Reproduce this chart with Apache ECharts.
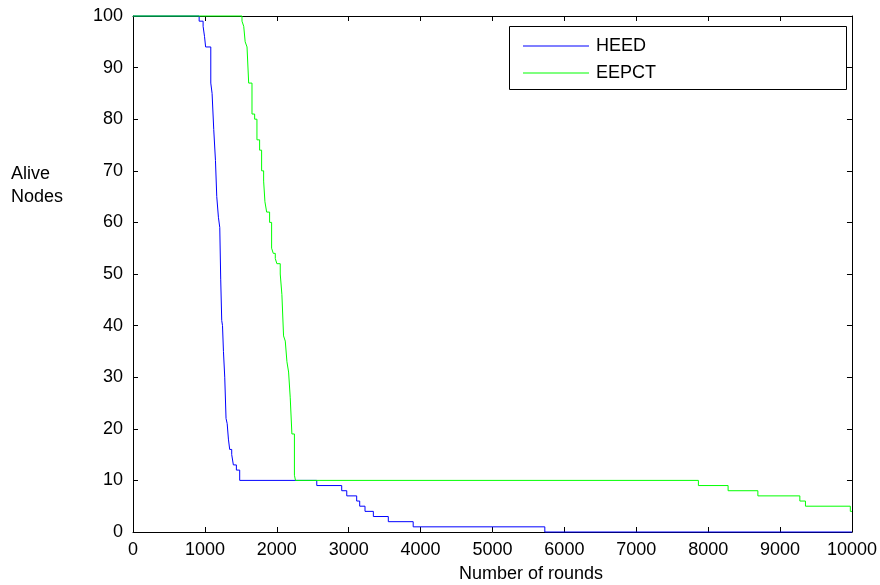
<!DOCTYPE html>
<html>
<head>
<meta charset="utf-8">
<script src="https://cdn.jsdelivr.net/npm/echarts@6/dist/echarts.min.js"></script>
<style>html,body{margin:0;padding:0;background:#fff;}#c{width:880px;height:585px;}</style>
</head>
<body>
<div id="c"></div>
<script>
// step data: [round where value starts, alive nodes]
var heedRounds = [0, 920, 975, 995, 1010, 1082, 1100, 1123, 1147, 1165, 1188, 1207, 1220, 1234, 1245, 1258, 1276, 1294, 1310, 1327, 1345, 1373, 1396, 1438, 1484, 2556, 2903, 2973, 3111, 3153, 3227, 3343, 3551, 3897, 5728, 10000];
var heedAlive  = [100, 99, 98, 96, 94, 87, 85, 78, 72, 65, 61, 59, 49, 41, 40, 35, 30, 22, 21, 18, 16, 15, 13, 12, 10, 9, 8, 7, 6, 5, 4, 3, 2, 1, 0, 0];
var eepctRounds = [0, 1516, 1540, 1560, 1586, 1609, 1655, 1692, 1724, 1761, 1789, 1817, 1835, 1859, 1900, 1928, 1951, 1979, 2001, 2048, 2071, 2094, 2118, 2141, 2164, 2187, 2210, 2245, 2260, 7864, 8277, 8691, 9275, 9353, 9977, 10000];
var eepctAlive  = [100, 99, 98, 95, 94, 87, 81, 80, 76, 74, 70, 68, 64, 62, 60, 55, 54, 53, 52, 50, 46, 38, 37, 33, 31, 26, 19, 11, 10, 9, 8, 7, 6, 5, 4, 4];
var xTicks = [0, 1000, 2000, 3000, 4000, 5000, 6000, 7000, 8000, 9000, 10000];
var yTicks = [0, 10, 20, 30, 40, 50, 60, 70, 80, 90, 100];
var xTitle = 'Number of rounds';
var yTitle = 'Alive\nNodes';

function zip(a, b) { return a.map(function (v, i) { return [v, b[i]]; }); }

var FONT = 'Liberation Sans';
var FS = 18;
var chart = echarts.init(document.getElementById('c'));
var tickCommon = { show: true, inside: true, length: 5, lineStyle: { color: '#000', width: 1 } };
var lineCommon = { show: true, onZero: false, lineStyle: { color: '#000', width: 1 } };
var plain = function (v) { return String(v); };

chart.setOption({
  animation: false,
  backgroundColor: '#fff',
  textStyle: { fontFamily: FONT },
  grid: { left: 133, right: 26, top: 16, bottom: 53, containLabel: false },
  legend: {
    left: 523, top: 37, orient: 'vertical', icon: 'rect', z: 20, padding: 0,
    itemWidth: 66, itemHeight: 1, itemGap: 9,
    textStyle: { fontFamily: FONT, fontSize: FS, color: '#000', padding: [0, 0, 0, 2] },
    data: ['HEED', 'EEPCT']
  },
  xAxis: [{
    type: 'value', min: xTicks[0], max: xTicks[xTicks.length - 1], interval: 1000,
    position: 'bottom',
    axisLine: lineCommon, axisTick: tickCommon,
    axisLabel: { color: '#000', fontFamily: FONT, fontSize: FS, margin: 9, formatter: plain },
    splitLine: { show: false }
  }, {
    type: 'value', min: xTicks[0], max: xTicks[xTicks.length - 1], interval: 1000,
    position: 'top',
    axisLine: lineCommon, axisTick: tickCommon, axisLabel: { show: false }, splitLine: { show: false }
  }],
  yAxis: [{
    type: 'value', min: yTicks[0], max: yTicks[yTicks.length - 1], interval: 10,
    position: 'left',
    axisLine: lineCommon, axisTick: tickCommon,
    axisLabel: { color: '#000', fontFamily: FONT, fontSize: FS, margin: 10, formatter: plain },
    splitLine: { show: false }
  }, {
    type: 'value', min: yTicks[0], max: yTicks[yTicks.length - 1], interval: 10,
    position: 'right',
    axisLine: lineCommon, axisTick: tickCommon, axisLabel: { show: false }, splitLine: { show: false }
  }],
  graphic: [{
    type: 'rect', left: 509, top: 26, z: 1,
    shape: { width: 337, height: 63 },
    style: { fill: '#fff', stroke: '#000', lineWidth: 1 }
  }, {
    type: 'text', left: 11, top: 163, z: 60,
    style: { text: yTitle, font: FS + 'px ' + FONT, fill: '#000', lineHeight: 23 }
  }, {
    type: 'text', x: 531, y: 565, z: 60,
    style: { text: xTitle, font: FS + 'px ' + FONT, fill: '#000', align: 'center', verticalAlign: 'top' }
  }],
  series: [{
    name: 'HEED', type: 'line', step: 'end', symbol: 'none', clip: false,
    data: zip(heedRounds, heedAlive),
    itemStyle: { color: '#0000ff' },
    lineStyle: { color: '#0000ff', width: 1 }
  }, {
    name: 'EEPCT', type: 'line', step: 'end', symbol: 'none', clip: false,
    data: zip(eepctRounds, eepctAlive),
    itemStyle: { color: '#00ff00' },
    lineStyle: { color: '#00ff00', width: 1 }
  }]
});
</script>
</body>
</html>
